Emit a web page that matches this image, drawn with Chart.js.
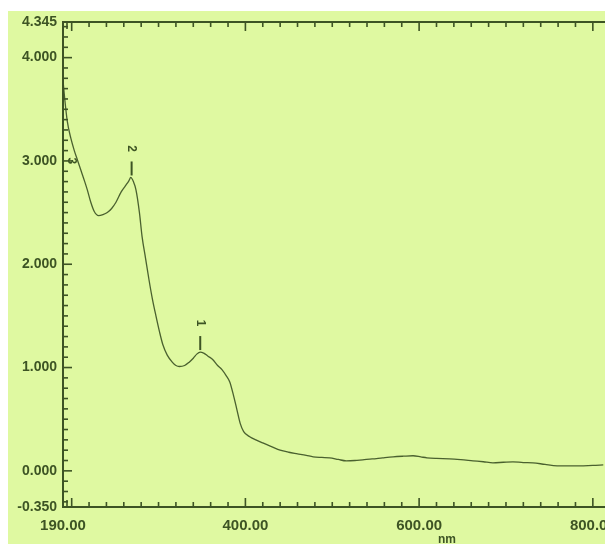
<!DOCTYPE html>
<html>
<head>
<meta charset="utf-8">
<script src="https://cdn.jsdelivr.net/npm/chart.js@4.4.0/dist/chart.umd.min.js"></script>
<style>
  body { margin: 0; background: #fff; }
  #wrap { position: relative; width: 605px; height: 544px; }
</style>
</head>
<body>
<div id="wrap"><canvas id="spec" width="605" height="544"></canvas></div>
<script>
// spectrum (nm / Abs)
var wavelengths = [190, 192, 195, 199, 203, 207, 211, 215, 218, 222, 226, 231, 236, 241, 246, 251, 257, 262, 266, 268,
  271, 274, 278, 281, 285, 289, 293, 297, 301, 305, 310, 316, 320, 324, 330, 335, 340, 344, 348, 352, 357, 362, 368, 373,
  378, 382, 386, 390, 394, 398, 405, 412, 420, 430, 440, 450, 460, 470, 478, 488, 497, 507, 516, 526, 535, 546, 558, 570,
  582, 593, 602, 609, 620, 635, 648, 662, 674, 685, 697, 708, 720, 731, 745, 759, 773, 789, 800, 812];
var absorbance = [3.78, 3.6, 3.38, 3.22, 3.1, 3.0, 2.9, 2.8, 2.72, 2.6, 2.51, 2.47, 2.48, 2.5, 2.54, 2.6, 2.7, 2.76, 2.81, 2.84,
  2.8, 2.72, 2.5, 2.27, 2.06, 1.85, 1.66, 1.5, 1.35, 1.22, 1.12, 1.05, 1.02, 1.01, 1.02, 1.05, 1.09, 1.13, 1.15, 1.14, 1.11, 1.08, 1.02, 0.98,
  0.92, 0.86, 0.74, 0.6, 0.46, 0.38, 0.33, 0.3, 0.27, 0.235, 0.2, 0.18, 0.165, 0.15, 0.136, 0.13, 0.126, 0.11, 0.097, 0.1, 0.107, 0.115, 0.126, 0.136,
  0.142, 0.146, 0.135, 0.126, 0.12, 0.116, 0.108, 0.097, 0.088, 0.078, 0.083, 0.087, 0.08, 0.078, 0.062, 0.049, 0.048, 0.049, 0.052, 0.058];

var xTickLabels = [190, 400, 600, 800];
var yTickLabels = [-0.35, 0, 1, 2, 3, 4, 4.345];

var peakNames = ['1', '2', '3'];
var peakNm = [348, 269, 199];
var peakAbs = [1.15, 2.84, 2.72];
var peakLine = [true, true, false];

var ink = '#3d5424';
var bg = '#dff9a1';
var labelFont = 'bold 15px "Liberation Sans", Arial, sans-serif';

var points = wavelengths.map((w, i) => ({x: w, y: absorbance[i]}));

var scanLook = {
    id: 'scanLook',
    beforeDraw(chart) {
        var c = chart.ctx;
        c.save();
        c.fillStyle = bg;
        c.fillRect(8, 11, chart.width - 8, chart.height - 11);
        c.restore();
    },
    afterDraw(chart) {
        var c = chart.ctx, a = chart.chartArea;
        var xs = chart.scales.x, ys = chart.scales.y;
        c.save();
        c.strokeStyle = ink;
        c.lineWidth = 2;
        // top frame line
        c.beginPath();
        c.moveTo(a.left, a.top);
        c.lineTo(a.right, a.top);
        c.stroke();

        // inward ticks on bottom and top
        c.lineWidth = 1.6;
        for (var v = 200; v <= 810; v += 20) {
            var px = xs.getPixelForValue(v);
            var len = (v % 200 === 0) ? 9 : 5;
            c.beginPath();
            c.moveTo(px, a.bottom);
            c.lineTo(px, a.bottom - len);
            c.moveTo(px, a.top);
            c.lineTo(px, a.top + len);
            c.stroke();
        }
        c.beginPath();
        c.moveTo(a.left + 4, a.top);
        c.lineTo(a.left + 4, a.top + 7);
        c.moveTo(a.left + 4, a.bottom);
        c.lineTo(a.left + 4, a.bottom - 7);
        c.stroke();

        // inward ticks on the left axis
        for (var k = -3; k <= 43; k++) {
            var py = ys.getPixelForValue(k / 10);
            var l2 = (k % 10 === 0) ? 9 : 5;
            c.beginPath();
            c.moveTo(a.left, py);
            c.lineTo(a.left + l2, py);
            c.stroke();
        }

        // x tick labels
        c.fillStyle = ink;
        c.font = labelFont;
        c.textAlign = 'center';
        c.textBaseline = 'middle';
        xTickLabels.forEach((v) => {
            c.fillText(v.toFixed(2), xs.getPixelForValue(v), a.bottom + 19);
        });

        // peak markers
        c.font = 'bold 12px "Liberation Sans", Arial, sans-serif';
        peakNames.forEach((name, i) => {
            var px = xs.getPixelForValue(peakNm[i]);
            var py = ys.getPixelForValue(peakAbs[i]);
            if (peakLine[i]) {
                c.lineWidth = 2;
                c.beginPath();
                c.moveTo(px, py - 2);
                c.lineTo(px, py - 16);
                c.stroke();
            }
            c.save();
            c.translate(px, py - 29);
            c.rotate(Math.PI / 2);
            c.fillText(name, 0, 0);
            c.restore();
        });

        // unit
        c.font = 'bold 12px "Liberation Sans", Arial, sans-serif';
        c.fillText('nm', xs.getPixelForValue(632), 540);
        c.restore();
    }
};

var ctx = document.getElementById('spec');
var chart = new Chart(ctx, {
    type: 'line',
    data: {
        datasets: [{
            data: points,
            borderColor: 'rgba(58, 80, 34, 0.9)',
            borderWidth: 1.3,
            pointRadius: 0,
            fill: false,
            cubicInterpolationMode: 'monotone'
        }]
    },
    options: {
        responsive: false,
        animation: false,
        devicePixelRatio: 1,
        layout: {
            autoPadding: false,
            padding: {top: 22, left: 0, right: 0, bottom: 0}
        },
        plugins: {
            legend: {display: false},
            tooltip: {enabled: false}
        },
        scales: {
            x: {
                type: 'linear',
                min: 190,
                max: 814,
                afterBuildTicks: (s) => { s.ticks = xTickLabels.map(v => ({value: v})); },
                afterFit: (s) => { s.height = 37; },
                grid: {display: false, drawTicks: false},
                border: {color: ink, width: 2},
                ticks: {display: false}
            },
            y: {
                min: -0.35,
                max: 4.345,
                afterBuildTicks: (s) => { s.ticks = yTickLabels.map(v => ({value: v})); },
                afterFit: (s) => { s.width = 63; },
                grid: {display: false, drawTicks: false},
                border: {color: ink, width: 2},
                ticks: {
                    autoSkip: false,
                    padding: 6,
                    color: ink,
                    font: {family: '"Liberation Sans", Arial, sans-serif', size: 14, weight: 'bold'},
                    callback: (v) => v.toFixed(3)
                }
            }
        }
    },
    plugins: [scanLook]
});
</script>
</body>
</html>
